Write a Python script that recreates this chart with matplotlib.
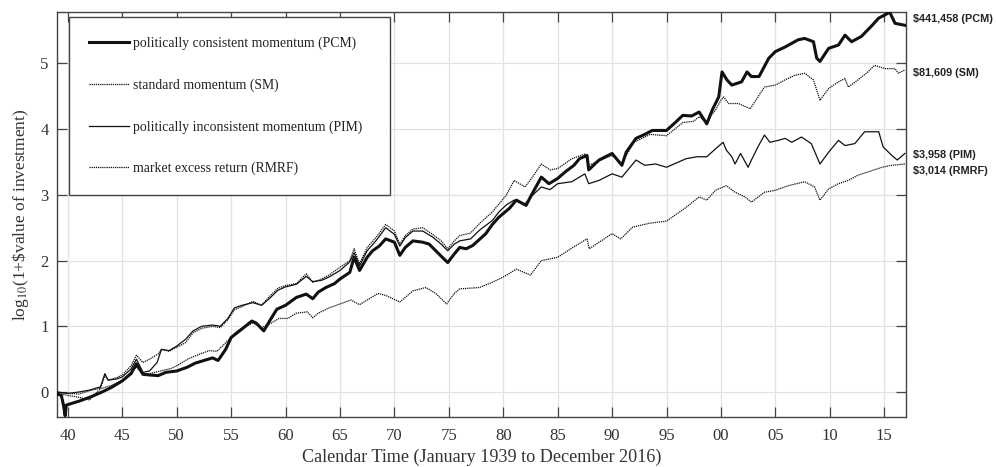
import matplotlib
matplotlib.use("Agg")
import matplotlib.pyplot as plt
import matplotlib.transforms as mtransforms

# values: log10(1 + $ value of $1 invested in Jan 1939)
pcm_x = [1939.0, 1939.4, 1939.6, 1939.75, 1939.85, 1940.2, 1941, 1942, 1943, 1944, 1945, 1945.8,
         1946.3, 1946.9, 1947.5, 1948.3, 1949, 1950, 1951, 1951.7, 1952.5, 1953.3, 1953.8, 1954.5,
         1955, 1956, 1956.9, 1957.3, 1958, 1958.6, 1959.2, 1960, 1961, 1961.9, 1962.5, 1963, 1963.7,
         1964.5, 1965, 1965.9, 1966.3, 1966.8, 1967.5, 1968, 1968.6, 1969.2, 1970, 1970.5, 1971,
         1971.7, 1972.6, 1973.2, 1973.8, 1974.4, 1974.9, 1975.5, 1976, 1976.6, 1977.2, 1977.8, 1978.4,
         1979, 1979.6, 1980.6, 1981.2, 1982.1, 1982.6, 1983.5, 1984.2, 1985, 1985.7, 1986.5, 1987,
         1987.7, 1987.85, 1988.8, 1990, 1990.9, 1991.3, 1992.2, 1993, 1993.7, 1995, 1995.8, 1996.5,
         1997.3, 1998, 1998.7, 1999.2, 1999.8, 2000.1, 2000.55, 2001, 2001.9, 2002.4, 2002.8, 2003.5,
         2004.4, 2005, 2005.9, 2007.1, 2007.7, 2008.5, 2008.8, 2009.1, 2009.9, 2010.8, 2011.4, 2012,
         2012.9, 2013.9, 2014.5, 2015.1, 2015.5, 2016, 2016.9]
pcm_y = [-0.03, -0.05, -0.2, -0.36, -0.2, -0.18, -0.14, -0.08, -0.01, 0.07, 0.17, 0.28,
         0.43, 0.27, 0.26, 0.25, 0.30, 0.32, 0.38, 0.44, 0.48, 0.52, 0.48, 0.65,
         0.83, 0.96, 1.08, 1.05, 0.93, 1.10, 1.26, 1.32, 1.44, 1.49, 1.42, 1.52, 1.59,
         1.65, 1.72, 1.82, 2.05, 1.85, 2.05, 2.15, 2.22, 2.33, 2.28, 2.08, 2.20,
         2.30, 2.28, 2.25, 2.15, 2.05, 1.97, 2.10, 2.20, 2.18, 2.23, 2.32, 2.41,
         2.55, 2.66, 2.80, 2.92, 2.84, 3.00, 3.27, 3.17, 3.25, 3.35, 3.45, 3.55,
         3.60, 3.38, 3.53, 3.63, 3.45, 3.65, 3.86, 3.92, 3.98, 3.98, 4.10, 4.21,
         4.20, 4.26, 4.08, 4.29, 4.49, 4.87, 4.75, 4.67, 4.72, 4.87, 4.80, 4.80,
         5.08, 5.18, 5.25, 5.36, 5.38, 5.33, 5.08, 5.03, 5.23, 5.28, 5.43, 5.33,
         5.41, 5.58, 5.69, 5.74, 5.78, 5.61, 5.58]

sm_x = [1939.0, 1940, 1941, 1942, 1943, 1943.4, 1943.7, 1944.5, 1945, 1945.8, 1946.3, 1946.9,
        1947.5, 1948.3, 1948.6, 1949.3, 1950, 1950.8, 1951.5, 1952.3, 1953.3, 1954, 1954.7, 1955.3,
        1956, 1957, 1957.8, 1958.5, 1959.3, 1960, 1961, 1961.9, 1962.5, 1963.3, 1964, 1965, 1965.9,
        1966.3, 1966.8, 1967.5, 1968.3, 1969.2, 1970, 1970.5, 1971, 1971.7, 1972.6, 1973.5, 1974.3,
        1974.9, 1975.5, 1976, 1977, 1977.8, 1979, 1979.6, 1980.3, 1981, 1982, 1982.6, 1983.5, 1984.3,
        1985, 1986.3, 1987.5, 1987.85, 1988.8, 1990, 1990.9, 1992, 1993.5, 1995, 1996.5, 1997.5,
        1998, 1998.6, 1999.5, 2000, 2000.25, 2000.7, 2001.6, 2002.7, 2003.4, 2004, 2005, 2005.9,
        2006.8, 2007.7, 2008.5, 2009.1, 2009.9, 2010.8, 2011.4, 2011.7, 2012.6, 2013.5, 2014.1,
        2015.1, 2016, 2016.3, 2016.9]
sm_y = [0.0, -0.02, -0.03, 0.02, 0.06, 0.25, 0.18, 0.22, 0.26, 0.40, 0.56, 0.45,
        0.50, 0.58, 0.65, 0.62, 0.68, 0.75, 0.90, 0.97, 1.00, 0.98, 1.10, 1.25,
        1.30, 1.38, 1.32, 1.45, 1.58, 1.62, 1.65, 1.80, 1.67, 1.72, 1.78, 1.90, 2.00,
        2.18, 1.95, 2.20, 2.35, 2.55, 2.45, 2.25, 2.38, 2.48, 2.50, 2.40, 2.30,
        2.18, 2.30, 2.38, 2.42, 2.56, 2.74, 2.86, 3.00, 3.22, 3.12, 3.25, 3.47, 3.38,
        3.40, 3.55, 3.62, 3.45, 3.52, 3.60, 3.48, 3.80, 3.92, 3.90, 4.10, 4.12,
        4.19, 4.11, 4.29, 4.44, 4.49, 4.39, 4.39, 4.31, 4.49, 4.64, 4.67, 4.75,
        4.82, 4.85, 4.75, 4.44, 4.62, 4.72, 4.77, 4.64, 4.75, 4.87, 4.97,
        4.92, 4.92, 4.85, 4.90]

pim_x = [1939.0, 1940, 1941, 1942, 1943, 1943.4, 1943.7, 1944.5, 1945, 1945.8, 1946.3, 1946.9,
         1947.5, 1948.2, 1948.6, 1949.3, 1950, 1950.8, 1951.5, 1952.3, 1953.3, 1954, 1954.7, 1955.3,
         1956, 1957, 1957.8, 1958.5, 1959.3, 1960, 1961, 1961.9, 1962.5, 1963.3, 1964, 1965, 1965.9,
         1966.3, 1966.8, 1967.5, 1968.3, 1969.2, 1970, 1970.5, 1971, 1971.7, 1972.6, 1973.5, 1974.3,
         1974.9, 1975.5, 1976, 1977, 1977.8, 1979, 1979.6, 1980.3, 1981, 1982, 1982.6, 1983.5, 1984.3,
         1985, 1986.3, 1987.5, 1987.85, 1988.8, 1990, 1990.9, 1992.2, 1993, 1994, 1995, 1996.8,
         1997.8, 1998.7, 1999.5, 2000.2, 2000.5, 2001, 2001.3, 2001.8, 2002.5, 2002.8, 2003.4, 2004,
         2004.5, 2005.3, 2005.9, 2006.5, 2007.4, 2008.3, 2009.1, 2009.9, 2010.8, 2011.4, 2012.3,
         2013.2, 2014.5, 2014.9, 2015.7, 2016.2, 2016.9]
pim_y = [0.0, -0.02, 0.0, 0.03, 0.08, 0.28, 0.18, 0.20, 0.23, 0.35, 0.50, 0.30,
         0.32, 0.45, 0.65, 0.63, 0.70, 0.80, 0.93, 1.00, 1.02, 1.00, 1.12, 1.28,
         1.32, 1.36, 1.32, 1.42, 1.55, 1.60, 1.64, 1.76, 1.68, 1.70, 1.75, 1.85, 1.98,
         2.12, 1.92, 2.15, 2.30, 2.50, 2.40, 2.22, 2.35, 2.45, 2.45, 2.36, 2.25,
         2.15, 2.25, 2.30, 2.33, 2.46, 2.61, 2.74, 2.85, 2.92, 2.86, 2.98, 3.12, 3.08,
         3.17, 3.20, 3.32, 3.17, 3.22, 3.32, 3.27, 3.53, 3.45, 3.47, 3.42, 3.55,
         3.58, 3.58, 3.70, 3.80, 3.68, 3.58, 3.47, 3.63, 3.42, 3.53, 3.73, 3.91,
         3.80, 3.83, 3.86, 3.80, 3.88, 3.78, 3.47, 3.65, 3.83, 3.75, 3.78,
         3.96, 3.96, 3.73, 3.60, 3.53, 3.63]

rmrf_x = [1939.0, 1940, 1941, 1942, 1942.5, 1943, 1944, 1945, 1946.3, 1946.9, 1947.5, 1948.5,
          1949.5, 1950, 1951, 1952, 1953, 1953.7, 1954.5, 1955.5, 1956.3, 1957, 1957.8, 1958.7,
          1959.4, 1960.2, 1961, 1962, 1962.5, 1963, 1964, 1965, 1966, 1966.8, 1967.5, 1968.5, 1969.2,
          1970.5, 1971.7, 1972.9, 1973.8, 1974.8, 1975.5, 1976, 1977.8, 1979, 1980, 1981.2, 1982.5,
          1983.5, 1985, 1986.4, 1987.7, 1987.9, 1990, 1990.8, 1991.9, 1993.5, 1995, 1996.8, 1998,
          1998.7, 1999.5, 2000.5, 2001.3, 2002.2, 2002.8, 2004, 2005, 2006.2, 2007.7, 2008.6, 2009.1,
          2009.9, 2010.8, 2011.7, 2012.6, 2013.9, 2014.8, 2015.7, 2016.9]
rmrf_y = [-0.02, -0.05, -0.08, -0.12, -0.03, 0.05, 0.10, 0.18, 0.38, 0.27, 0.28, 0.32,
          0.36, 0.40, 0.50, 0.57, 0.63, 0.62, 0.75, 0.92, 1.00, 1.05, 0.98, 1.05,
          1.12, 1.12, 1.20, 1.22, 1.13, 1.20, 1.28, 1.34, 1.40, 1.33, 1.40, 1.50, 1.47,
          1.37, 1.54, 1.59, 1.50, 1.34, 1.50, 1.57, 1.59, 1.67, 1.75, 1.87, 1.78,
          2.00, 2.05, 2.20, 2.33, 2.18, 2.41, 2.33, 2.51, 2.57, 2.60, 2.81, 2.97,
          2.92, 3.07, 3.14, 3.04, 2.97, 2.89, 3.04, 3.07, 3.14, 3.20, 3.12, 2.92,
          3.09, 3.17, 3.22, 3.30, 3.37, 3.42, 3.45, 3.47]

series_labels = ["politically consistent momentum (PCM)", "standard momentum (SM)",
                 "politically inconsistent momentum (PIM)", "market excess return (RMRF)"]
end_labels = ["\\$441,458 (PCM)", "\\$81,609 (SM)", "\\$3,958 (PIM)", "\\$3,014 (RMRF)"]
end_label_y = [5.68, 4.85, 3.60, 3.36]

x_ticks = list(range(1940, 2016, 5))
x_ticklabels = ["%02d" % (t % 100) for t in x_ticks]
y_ticks = [0, 1, 2, 3, 4, 5]

plt.rcParams["font.family"] = ["Liberation Serif", "DejaVu Serif"]
plt.rcParams["mathtext.fontset"] = "stix"

fig = plt.figure(figsize=(9.96, 4.67), dpi=100)
ax = fig.add_axes([0.0572, 0.107, 0.8524, 0.867])

ax.plot(pcm_x, pcm_y, color="#111111", lw=2.2, label=series_labels[0], zorder=4)
ax.plot(sm_x, sm_y, color="#111111", lw=0.9, ls=(0, (1, 0.7)), label=series_labels[1], zorder=3)
ax.plot(pim_x, pim_y, color="#111111", lw=0.9, label=series_labels[2], zorder=3)
ax.plot(rmrf_x, rmrf_y, color="#111111", lw=0.9, ls=(0, (1, 0.7)), label=series_labels[3], zorder=3)

ax.set_xlim(1939, 2017)
ax.set_ylim(-0.38, 5.78)
ax.set_xticks(x_ticks)
ax.set_xticklabels(x_ticklabels)
ax.set_yticks(y_ticks)
ax.grid(True, color="#e2e2e2", lw=0.9)
ax.set_axisbelow(True)
ax.tick_params(direction="in", length=7, width=0.9, top=True, right=True,
               labelsize=12, colors="#444444", labelcolor="#333333")
ax.tick_params(axis="x", pad=8)
ax.tick_params(axis="y", pad=6)
for sp in ax.spines.values():
    sp.set_color("#444444")
    sp.set_linewidth(1.0)

ax.set_xlabel("Calendar Time (January 1939 to December 2016)", fontsize=13.1, color="#333333", labelpad=3)
ax.set_ylabel(r"log$_{10}$(1+\$value of investment)", fontsize=12.5, color="#333333", labelpad=7)

leg = ax.legend(loc="upper left", bbox_to_anchor=(0.014, 0.548, 0.378, 0.44), mode="expand",
                borderaxespad=0, fontsize=9.9, handlelength=2.9, handletextpad=0.3,
                labelspacing=2.05, borderpad=1.45, fancybox=False, framealpha=1,
                edgecolor="#444444")
leg.get_frame().set_linewidth(1.0)
for t in leg.get_texts():
    t.set_color("#222222")

trans = mtransforms.blended_transform_factory(ax.transAxes, ax.transData)
for lab, yv in zip(end_labels, end_label_y):
    ax.text(1.008, yv, lab, transform=trans, fontsize=7.8, fontweight="bold",
            family="Liberation Sans", color="#222222", va="center", ha="left")

fig.savefig("out.png", dpi=100)
